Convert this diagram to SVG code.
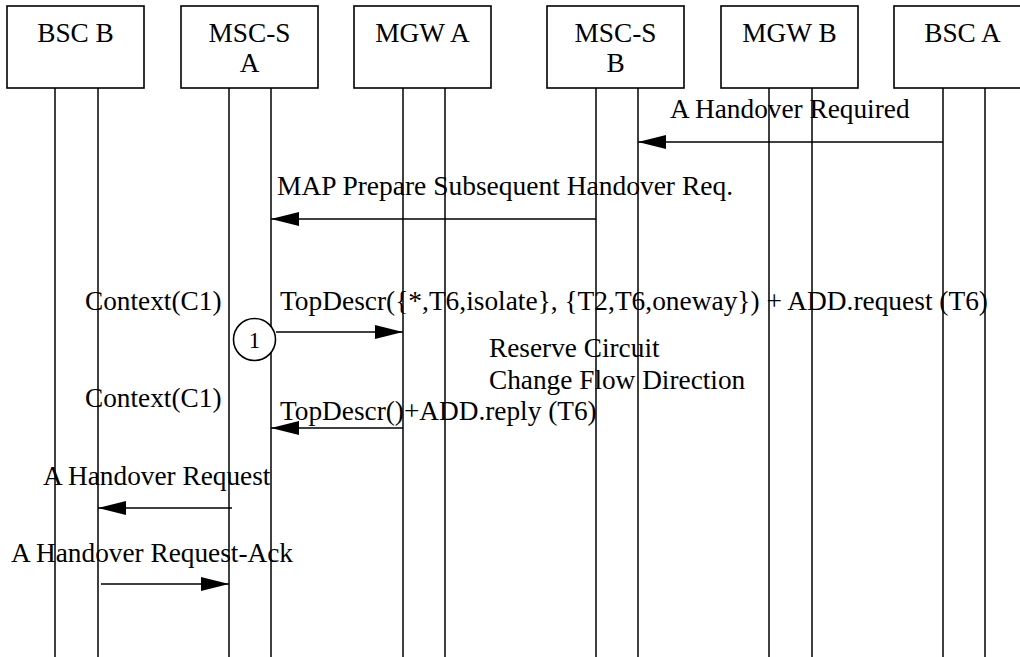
<svg xmlns="http://www.w3.org/2000/svg" width="1020" height="657" viewBox="0 0 1020 657">
<style>
.box{fill:#fff;stroke:#000;stroke-width:1.6}
.life{stroke:#000;stroke-width:1.5;fill:none}
.msg{stroke:#000;stroke-width:1.6;fill:none}
text{font-family:"Liberation Serif","Times New Roman",serif;font-size:27.3px;fill:#000}
.c{text-anchor:middle}
</style>
<defs>
<marker id="ah" markerUnits="userSpaceOnUse" markerWidth="28" markerHeight="14" refX="28" refY="7" orient="auto">
<path d="M0,0 L28,7 L0,14 Z" fill="#000"/>
</marker>
</defs>
<rect width="1020" height="657" fill="#fff"/>
<g id="lifelines">
<line class="life" x1="55" y1="88" x2="55" y2="657"/>
<line class="life" x1="98" y1="88" x2="98" y2="657"/>
<line class="life" x1="229" y1="88" x2="229" y2="657"/>
<line class="life" x1="271" y1="88" x2="271" y2="657"/>
<line class="life" x1="403" y1="88" x2="403" y2="657"/>
<line class="life" x1="445" y1="88" x2="445" y2="657"/>
<line class="life" x1="596" y1="88" x2="596" y2="657"/>
<line class="life" x1="638" y1="88" x2="638" y2="657"/>
<line class="life" x1="769" y1="88" x2="769" y2="657"/>
<line class="life" x1="812" y1="88" x2="812" y2="657"/>
<line class="life" x1="943" y1="88" x2="943" y2="657"/>
<line class="life" x1="985" y1="88" x2="985" y2="657"/>
</g>
<g id="bscB"><rect class="box" x="7" y="6" width="137" height="82"/><text class="c" x="75.5" y="42">BSC B</text></g>
<g id="mscA"><rect class="box" x="181" y="6" width="137" height="82"/><text class="c" x="249.5" y="42">MSC-S</text><text class="c" x="249.5" y="72">A</text></g>
<g id="mgwA"><rect class="box" x="354" y="6" width="137" height="82"/><text class="c" x="422.5" y="42">MGW A</text></g>
<g id="mscB"><rect class="box" x="547" y="6" width="137" height="82"/><text class="c" x="615.5" y="42">MSC-S</text><text class="c" x="615.5" y="72">B</text></g>
<g id="mgwB"><rect class="box" x="721" y="6" width="137" height="82"/><text class="c" x="789.5" y="42">MGW B</text></g>
<g id="bscA"><rect class="box" x="894" y="6" width="137" height="82"/><text class="c" x="962.5" y="42">BSC A</text></g>
<g id="connectors">
<line class="msg" x1="943" y1="142" x2="638" y2="142" marker-end="url(#ah)"/>
<line class="msg" x1="596" y1="219" x2="271" y2="219" marker-end="url(#ah)"/>
<line class="msg" x1="276" y1="332" x2="403" y2="332" marker-end="url(#ah)"/>
<line class="msg" x1="403" y1="428" x2="271" y2="428" marker-end="url(#ah)"/>
<line class="msg" x1="232" y1="508" x2="98" y2="508" marker-end="url(#ah)"/>
<line class="msg" x1="101" y1="584" x2="229" y2="584" marker-end="url(#ah)"/>
</g>
<g id="step1"><circle cx="254.5" cy="339.5" r="21" fill="#fff" stroke="#000" stroke-width="1.6"/><text class="c" x="254.5" y="347.5" style="font-size:23px">1</text></g>
<g id="labels">
<text x="670" y="118">A Handover Required</text>
<text x="277" y="195" textLength="456" lengthAdjust="spacingAndGlyphs">MAP Prepare Subsequent Handover Req.</text>
<text x="85" y="310">Context(C1)</text>
<text x="280" y="310" textLength="708" lengthAdjust="spacingAndGlyphs">TopDescr({*,T6,isolate}, {T2,T6,oneway}) + ADD.request (T6)</text>
<text x="489" y="357">Reserve Circuit</text>
<text x="489" y="389">Change Flow Direction</text>
<text x="85" y="407">Context(C1)</text>
<text x="280" y="420">TopDescr()+ADD.reply (T6)</text>
<text x="43" y="485">A Handover Request</text>
<text x="11" y="562">A Handover Request-Ack</text>
</g>
</svg>
